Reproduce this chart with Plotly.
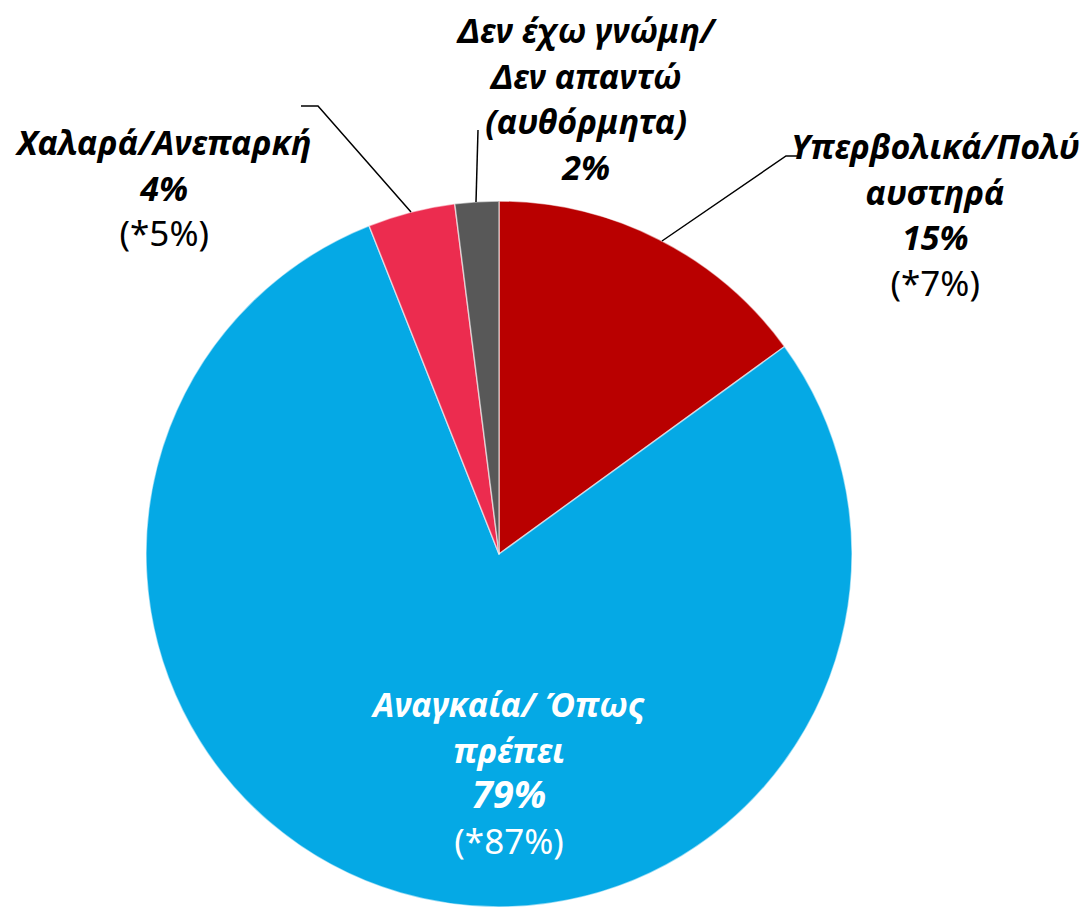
import plotly.graph_objects as go

# ---- data ----
categories = ["Υπερβολικά/Πολύ αυστηρά", "Αναγκαία/ Όπως πρέπει", "Χαλαρά/Ανεπαρκή",
              "Δεν έχω γνώμη/ Δεν απαντώ (αυθόρμητα)"]
label_lines = [["Υπερβολικά/Πολύ", "αυστηρά"],
               ["Αναγκαία/ Όπως", "πρέπει"],
               ["Χαλαρά/Ανεπαρκή"],
               ["Δεν έχω γνώμη/", "Δεν απαντώ", "(αυθόρμητα)"]]
values = [15, 79, 4, 2]
previous = [7, 87, 5, None]
colors = ["#B90000", "#05A9E5", "#EC2C4F", "#585858"]

W, H = 1089, 908
FONT = "Noto Sans"
OFF = 8  # page body margin


def px(x):
    return (x - OFF) / W


def py(y):
    return 1 - (y - OFF) / H


fig = go.Figure()
fig.add_trace(go.Pie(
    labels=categories, values=values, sort=False, direction="clockwise",
    rotation=0, marker=dict(colors=colors, line=dict(color="rgba(255,255,255,0.55)", width=1.5)),
    textinfo="none", hoverinfo="label+percent", showlegend=False,
    domain=dict(x=[px(146), px(852)], y=[py(907), py(201)]),
))

# label layouts: (center x, block center y, text color)
layouts = [
    (935, 214, "black"),
    (507, 772, "white"),
    (163, 187, "black"),
    (586, 99, "black"),
]


def bi(t, size=34):
    return f'<span style="font-size:{size}px"><b><i>{t}</i></b></span>'


ann = []
for i, (cx, cy, col) in enumerate(layouts):
    parts = [bi(t) for t in label_lines[i]]
    parts.append(bi(f"{values[i]}%", 38 if i == 1 else 34))
    if previous[i] is not None:
        parts.append(f"(*{previous[i]}%)")
    ann.append(dict(x=px(cx), y=py(cy), xref="paper", yref="paper", text="<br>".join(parts),
                    showarrow=False, xanchor="center", yanchor="middle", align="center",
                    font=dict(family=FONT, size=35, color=col)))

fig.update_layout(
    width=W, height=H, margin=dict(l=0, r=0, t=0, b=0),
    paper_bgcolor="white", plot_bgcolor="white",
    annotations=ann,
    shapes=[
        # leader line: Υπερβολικά
        dict(type="path", xref="paper", yref="paper", line=dict(color="black", width=1.5),
             path=f"M {px(662)} {py(241)} L {px(786)} {py(156)} L {px(798)} {py(156)}"),
        # leader line: Χαλαρά
        dict(type="path", xref="paper", yref="paper", line=dict(color="black", width=1.5),
             path=f"M {px(411)} {py(212)} L {px(318)} {py(106)} L {px(301)} {py(106)}"),
        # leader line: Δεν έχω γνώμη
        dict(type="path", xref="paper", yref="paper", line=dict(color="black", width=1.5),
             path=f"M {px(476)} {py(202)} L {px(478)} {py(130)}"),
    ],
)

fig.write_html("out.html")
